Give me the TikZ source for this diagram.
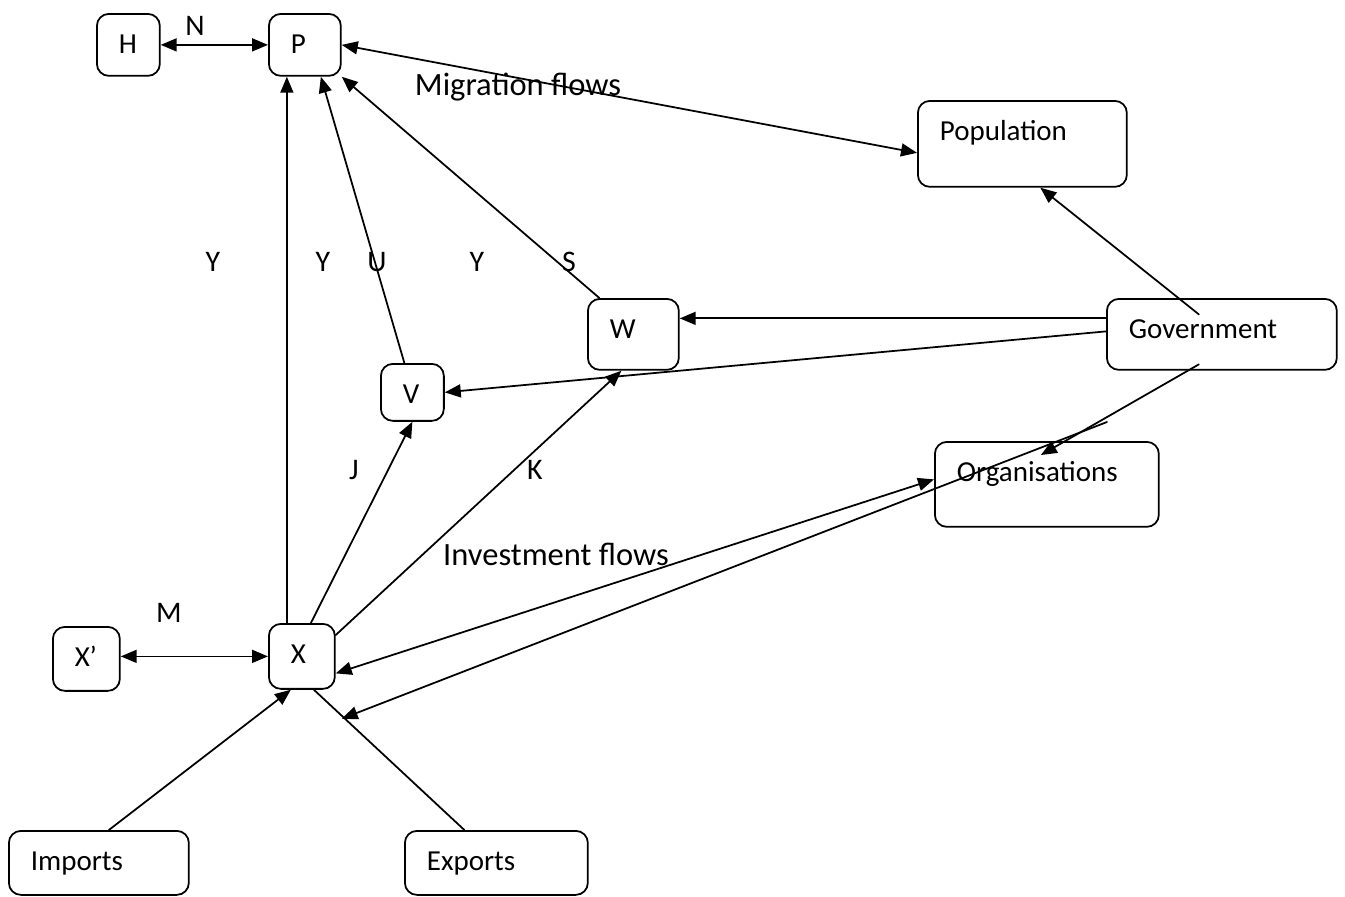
\documentclass[tikz,border=0pt]{standalone}
\usepackage{fontspec}
\setmainfont{Carlito}
\usetikzlibrary{arrows.meta}

\tikzset{
  box/.style={draw, rounded corners=0.24cm, anchor=north west, align=left,
    inner xsep=0.44cm, inner ysep=0pt, text height=0.8cm},
  lbl/.style={anchor=base, inner sep=0pt, font=\fontsize{17}{20}\selectfont},
  flowlbl/.style={lbl, font=\fontsize{18.5}{22}\selectfont},
}

\begin{document}
\begin{tikzpicture}[line cap=round, line join=round, >={Triangle[length=0.32cm,width=0.26cm]},
    font=\fontsize{16.5}{19}\selectfont, x=0.02cm, y=-0.02cm, line width=1pt]
  % khung (đơn vị: điểm ảnh, trục y hướng xuống)
  \useasboundingbox (0,0) rectangle (1345,896);

  % Các hộp
  \node[box, text width=0.38cm, text depth=0.44cm] (H) at (96,13) {H};
  \node[box, text width=0.56cm, text depth=0.44cm] (P) at (268,13) {P};
  \node[box, text width=3.30cm, text depth=0.92cm] (pop) at (917,100) {Population};
  \node[box, text width=0.94cm, text depth=0.62cm] (W) at (587,298) {W};
  \node[box, text width=3.72cm, text depth=0.62cm] (gov) at (1106,298) {Government};
  \node[box, text width=0.38cm, text depth=0.34cm] (V) at (380,363) {V};
  \node[box, text width=3.60cm, text depth=0.90cm] (org) at (934,441) {Organisations};
  \node[box, text width=0.46cm, text depth=0.48cm] (Xp) at (52,626) {X’};
  \node[box, text width=0.44cm, text depth=0.50cm] (X) at (268,623) {X};
  \node[box, text width=2.72cm, text depth=0.48cm] (imp) at (8,830) {Imports};
  \node[box, text width=2.78cm, text depth=0.48cm] (exp) at (404,830) {Exports};

  % Nhãn
  \node[lbl] (lN) at (195,35) {N};
  \node[lbl] (lM) at (169,622) {M};
  \node[flowlbl] (lmig) at (518,95) {Migration flows};
  \node[lbl] (lY1) at (213,271) {Y};
  \node[lbl] (lY2) at (323,271) {Y};
  \node[lbl] (lU) at (377,271) {U};
  \node[lbl] (lY3) at (477,271) {Y};
  \node[lbl] (lS) at (569,271) {S};
  \node[lbl] (lJ) at (354,479) {J};
  \node[lbl] (lK) at (535,479) {K};
  \node[flowlbl] (linv) at (556,565) {Investment flows};

  % Mũi tên hai chiều
  \draw[<->] (H) -- (P);
  \draw[<->] (Xp.east |- X.west) -- (X.west);
  \draw[<->] (P.east) -- ([shift={(0,9)}]pop.west);
  \draw[<->] ([shift={(0,17)}]X.east) -- ([shift={(0,-5)}]org.west);

  % Vào P
  \draw[->] ([shift={(-15,0)}]X.north) -- ([shift={(-15,0)}]X.north |- P.south);
  \draw[->] ([shift={(-8,0)}]V.north) -- ([shift={(16,0)}]P.south);
  \draw[->] ([shift={(-34,0)}]W.north) -- (P.south east);

  % Từ X
  \draw[->] ([shift={(9,0)}]X.north) -- (V.south);
  \draw[->] ([shift={(0,12)}]X.north east) -- ([shift={(-12,0)}]W.south);
  \draw ([shift={(12,0)}]X.south) -- ([shift={(-32,0)}]exp.north);
  \draw[->] ([shift={(10,0)}]imp.north) -- ([shift={(-11,0)}]X.south);

  % Từ Government
  \draw[->] ([shift={(0,-16)}]gov.west) -- ([shift={(0,-16)}]gov.west -| W.east);
  \draw[->] ([shift={(0,-3)}]gov.west) -- (V.east);
  \draw[->] ([shift={(-23,-20)}]gov.center) -- ([shift={(18,0)}]pop.south);
  \draw[->] ([shift={(-23,30)}]gov.center) -- ([shift={(-6,14)}]org.north);

  % Đường qua Organisations
  \coordinate (orgstub) at (1107,422);
  \draw[->] (orgstub) -- ([shift={(6,29)}]X.south east);
\end{tikzpicture}
\end{document}
